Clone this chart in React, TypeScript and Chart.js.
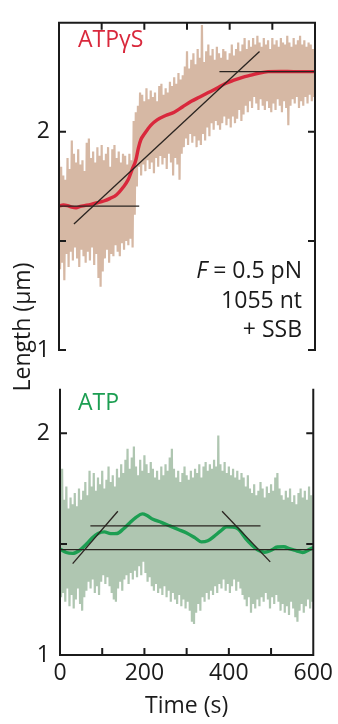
import React, { useEffect, useRef } from 'react';
import { Chart, registerables } from 'chart.js';

Chart.register(...registerables);

const FONT_FAMILY = '"Open Sans", "DejaVu Sans", sans-serif';
const FONT_SIZE = 23;
const INK = '#1b1b1b';
const RED = '#d9283c';
const TAN = '#d6b8a4';
const GREEN = '#1c9e52';
const SAGE = '#afc6b1';
const FIT = '#2a2420';

// ---------- shared axes ----------
const NOISE_STEP = 5; // seconds between raw-trace samples
const timeLabelTicks = [0, 200, 400, 600];
const timeMinorTicks = [100, 200, 300, 400, 500];
const lengthLabelTicks = [1, 2];
const lengthMinorTicks = [1.5, 2];

// ---------- top panel: ATPγS ----------
const gsRange = [1, 2.5];
const gsRawHigh = [
  1.87, 1.84, 1.80, 1.78, 1.88, 1.83, 1.96, 1.90, 1.86, 1.92,
  1.85, 1.87, 1.82, 1.95, 1.97, 1.88, 1.91, 1.86, 1.93, 1.89,
  1.94, 1.87, 1.90, 1.93, 1.84, 1.92, 1.94, 1.88, 1.91, 1.86,
  1.90, 1.89, 1.85, 1.90, 1.87, 2.05, 2.09, 2.12, 2.18, 2.17,
  2.14, 2.20, 2.15, 2.19, 2.16, 2.18, 2.14, 2.21, 2.22, 2.17,
  2.20, 2.18, 2.23, 2.21, 2.25, 2.22, 2.27, 2.24, 2.26, 2.30,
  2.37, 2.29, 2.33, 2.36, 2.31, 2.38, 2.34, 2.49, 2.32, 2.37,
  2.40, 2.35, 2.38, 2.33, 2.39, 2.36, 2.34, 2.38, 2.37, 2.33,
  2.36, 2.40, 2.35, 2.38, 2.41, 2.37, 2.40, 2.43, 2.38, 2.42,
  2.39, 2.43, 2.40, 2.44, 2.41, 2.39, 2.43, 2.40, 2.42, 2.38,
  2.43, 2.40, 2.42, 2.39, 2.43, 2.41, 2.40, 2.44, 2.41, 2.39,
  2.43, 2.40, 2.42, 2.44, 2.40, 2.42, 2.39, 2.41, 2.40, 2.38,
];
const gsRawLow = [
  1.37, 1.40, 1.32, 1.44, 1.38, 1.45, 1.41, 1.47, 1.42, 1.38,
  1.46, 1.43, 1.40, 1.45, 1.41, 1.47, 1.39, 1.44, 1.33, 1.29,
  1.36, 1.42, 1.46, 1.40, 1.44, 1.43, 1.48, 1.45, 1.43, 1.49,
  1.46, 1.50, 1.48, 1.51, 1.47, 1.62, 1.75, 1.84, 1.80, 1.85,
  1.82, 1.87, 1.83, 1.86, 1.81, 1.88, 1.84, 1.89, 1.85, 1.88,
  1.83, 1.90, 1.86, 1.80, 1.88, 1.85, 1.78, 1.90, 1.93, 1.97,
  1.94, 1.99, 1.95, 1.98, 1.93, 1.96, 1.94, 1.99, 1.96, 2.02,
  1.98, 2.04, 2.01, 2.05, 2.03, 2.01, 2.04, 2.07, 2.03, 2.06,
  2.02, 2.07, 2.04, 2.06, 2.10, 2.05, 2.08, 2.12, 2.09, 2.14,
  2.11, 2.16, 2.13, 2.10, 2.15, 2.12, 2.10, 2.14, 2.11, 2.09,
  2.13, 2.10, 2.15, 2.12, 2.09, 2.14, 2.11, 2.03, 2.12, 2.15,
  2.13, 2.16, 2.11, 2.14, 2.12, 2.16, 2.13, 2.17, 2.14, 2.16,
];
const gsSmoothTime = [0, 10, 20, 30, 40, 50, 60, 75, 90, 105, 120, 135, 150, 162, 172, 180, 186, 192, 200, 215, 230, 250, 270, 290, 310, 330, 350, 370, 390, 410, 430, 450, 470, 490, 520, 550, 580, 600];
const gsSmoothLength = [1.66, 1.665, 1.662, 1.655, 1.652, 1.658, 1.662, 1.668, 1.675, 1.683, 1.695, 1.712, 1.745, 1.78, 1.83, 1.87, 1.925, 1.965, 1.99, 2.03, 2.055, 2.075, 2.09, 2.115, 2.14, 2.16, 2.18, 2.2, 2.222, 2.237, 2.25, 2.26, 2.27, 2.276, 2.277, 2.276, 2.276, 2.276];
const gsFitStartTime = [0, 35, 376];
const gsFitEndTime = [188, 470, 600];
const gsFitStartLength = [1.66, 1.578, 2.276];
const gsFitEndLength = [1.66, 2.368, 2.276];

// ---------- bottom panel: ATP ----------
const atpRange = [1, 2.2];
const atpRawHigh = [
  1.72, 1.84, 1.70, 1.76, 1.66, 1.71, 1.68, 1.73, 1.67, 1.75,
  1.70, 1.74, 1.78, 1.72, 1.83, 1.76, 1.82, 1.74, 1.80, 1.77,
  1.83, 1.75, 1.79, 1.85, 1.78, 1.81, 1.76, 1.84, 1.80, 1.86,
  1.82, 1.88, 1.93, 1.84, 1.89, 1.94, 1.85, 1.81, 1.88, 1.83,
  1.90, 1.86, 1.82, 1.87, 1.84, 1.80, 1.83, 1.79, 1.85, 1.81,
  1.86, 1.83, 1.89, 1.93, 1.84, 1.80, 1.83, 1.78, 1.82, 1.85,
  1.81, 1.79, 1.83, 1.80, 1.84, 1.82, 1.86, 1.80, 1.85, 1.87,
  1.83, 1.86, 1.84, 1.88, 1.85, 1.99, 1.86, 1.83, 1.87, 1.82,
  1.85, 1.81, 1.84, 1.80, 1.83, 1.79, 1.82, 1.80, 1.76, 1.81,
  1.75, 1.73, 1.77, 1.72, 1.74, 1.78, 1.75, 1.71, 1.76, 1.73,
  1.77, 1.74, 1.80, 1.82, 1.75, 1.72, 1.70, 1.74, 1.71, 1.75,
  1.69, 1.72, 1.68, 1.73, 1.75, 1.71, 1.74, 1.70, 1.76, 1.72,
];
const atpRawLow = [
  1.26, 1.28, 1.24, 1.30, 1.22, 1.27, 1.21, 1.25, 1.30, 1.23,
  1.20, 1.26, 1.29, 1.33, 1.30, 1.34, 1.28, 1.31, 1.27, 1.33,
  1.36, 1.32, 1.35, 1.31, 1.28, 1.25, 1.24, 1.30, 1.33, 1.29,
  1.34, 1.36, 1.32, 1.37, 1.34, 1.38, 1.35, 1.40, 1.36, 1.42,
  1.37, 1.33, 1.35, 1.31, 1.29, 1.32, 1.28, 1.30, 1.27, 1.31,
  1.26, 1.29, 1.24, 1.28, 1.25, 1.23, 1.27, 1.22, 1.25, 1.21,
  1.24, 1.20, 1.15, 1.14, 1.19, 1.23, 1.20, 1.26, 1.24, 1.28,
  1.25, 1.29, 1.27, 1.31, 1.28, 1.32, 1.30, 1.34, 1.29, 1.32,
  1.28, 1.31, 1.34, 1.29, 1.33, 1.30, 1.27, 1.25, 1.22, 1.26,
  1.19, 1.23, 1.21, 1.25, 1.22, 1.26, 1.24, 1.28, 1.25, 1.21,
  1.26, 1.23, 1.27, 1.24, 1.20, 1.23, 1.19, 1.22, 1.18, 1.24,
  1.21, 1.17, 1.15, 1.20, 1.23, 1.19, 1.22, 1.25, 1.21, 1.24,
];
const atpSmoothTime = [0, 15, 30, 45, 60, 75, 90, 105, 120, 135, 150, 165, 180, 195, 205, 220, 240, 260, 280, 300, 320, 335, 350, 365, 380, 395, 410, 422, 440, 455, 470, 485, 500, 515, 530, 545, 560, 575, 590, 600];
const atpSmoothLength = [1.478, 1.462, 1.458, 1.47, 1.495, 1.525, 1.548, 1.555, 1.547, 1.548, 1.568, 1.595, 1.62, 1.636, 1.63, 1.612, 1.598, 1.582, 1.566, 1.55, 1.528, 1.51, 1.515, 1.535, 1.558, 1.578, 1.577, 1.568, 1.525, 1.495, 1.472, 1.463, 1.472, 1.487, 1.488, 1.478, 1.47, 1.462, 1.475, 1.485];
const atpFitStartTime = [0, 72, 30, 384];
const atpFitEndTime = [600, 475, 137, 498];
const atpFitStartLength = [1.475, 1.582, 1.412, 1.648];
const atpFitEndLength = [1.475, 1.582, 1.648, 1.42];

type Pt = { x: number; y: number };

const rawTrace = (hi: number[], lo: number[]): Pt[] => {
  const pts: Pt[] = [];
  hi.forEach((h, i) => {
    const t = i * NOISE_STEP;
    pts.push({ x: t, y: h });
    pts.push({ x: t + NOISE_STEP / 2, y: lo[i] });
  });
  return pts;
};
const pairs = (xs: number[], ys: number[]): Pt[] => xs.map((x, i) => ({ x, y: ys[i] }));

const fitDatasets = (t0: number[], t1: number[], l0: number[], l1: number[]) =>
  t0.map((t, i) => ({
    data: [{ x: t, y: l0[i] }, { x: t1[i], y: l1[i] }],
    borderColor: FIT,
    borderWidth: 1.3,
    pointRadius: 0,
    order: 1,
  }));

const font = () => ({ family: FONT_FAMILY, size: FONT_SIZE });

function framePlugin(kind: 'top' | 'bottom') {
  return {
    id: 'frame_' + kind,
    afterDatasetsDraw(chart: any) {
      const { ctx, chartArea: a, scales } = chart;
      const xs = scales.x;
      const ys = scales.y;
      const TL = 7;
      ctx.save();
      ctx.strokeStyle = INK;
      ctx.lineWidth = 2;
      ctx.beginPath();
      ctx.moveTo(a.left, a.top);
      ctx.lineTo(a.left, a.bottom);
      ctx.moveTo(a.right, a.top);
      ctx.lineTo(a.right, a.bottom);
      if (kind === 'top') {
        ctx.moveTo(a.left - 1, a.top);
        ctx.lineTo(a.right + 1, a.top);
        timeMinorTicks.forEach((t) => {
          const px = xs.getPixelForValue(t);
          ctx.moveTo(px, a.top);
          ctx.lineTo(px, a.top + TL);
        });
        const py1 = ys.getPixelForValue(1);
        ctx.moveTo(a.left - 1, py1);
        ctx.lineTo(a.left + TL, py1);
        ctx.moveTo(a.right + 1, py1);
        ctx.lineTo(a.right - TL, py1);
      } else {
        ctx.moveTo(a.left - 1, a.bottom);
        ctx.lineTo(a.right + 1, a.bottom);
        timeMinorTicks.forEach((t) => {
          const px = xs.getPixelForValue(t);
          ctx.moveTo(px, a.bottom);
          ctx.lineTo(px, a.bottom - TL);
        });
      }
      lengthMinorTicks.forEach((v) => {
        const py = ys.getPixelForValue(v);
        ctx.moveTo(a.left, py);
        ctx.lineTo(a.left + TL, py);
        ctx.moveTo(a.right, py);
        ctx.lineTo(a.right - TL, py);
      });
      ctx.stroke();
      ctx.restore();
    },
  };
}

const topTextPlugin = {
  id: 'topText',
  afterDraw(chart: any) {
    const ctx = chart.ctx;
    ctx.save();
    ctx.textBaseline = 'alphabetic';
    ctx.font = `${FONT_SIZE}px ${FONT_FAMILY}`;
    ctx.fillStyle = RED;
    ctx.textAlign = 'left';
    ctx.fillText('ATPγS', 78, 47);
    ctx.fillStyle = INK;
    ctx.textAlign = 'right';
    const rest = ' = 0.5 pN';
    ctx.fillText(rest, 302, 278);
    const w = ctx.measureText(rest).width;
    ctx.font = `italic ${FONT_SIZE}px ${FONT_FAMILY}`;
    ctx.fillText('F', 302 - w, 278);
    ctx.font = `${FONT_SIZE}px ${FONT_FAMILY}`;
    ctx.fillText('1055 nt', 302, 308);
    ctx.fillText('+ SSB', 302, 337);
    ctx.translate(30, 327);
    ctx.rotate(-Math.PI / 2);
    ctx.textAlign = 'center';
    ctx.fillText('Length (μm)', 0, 0);
    ctx.restore();
  },
};

const bottomTextPlugin = {
  id: 'bottomText',
  afterDraw(chart: any) {
    const ctx = chart.ctx;
    ctx.save();
    ctx.textBaseline = 'alphabetic';
    ctx.font = `${FONT_SIZE}px ${FONT_FAMILY}`;
    ctx.fillStyle = GREEN;
    ctx.textAlign = 'left';
    ctx.fillText('ATP', 78, 45);
    ctx.restore();
  },
};

const lengthTickCallback = (v: any) => (lengthLabelTicks.includes(Number(v)) ? String(v) : '');

export default function App() {
  const topRef = useRef<HTMLCanvasElement>(null);
  const botRef = useRef<HTMLCanvasElement>(null);

  useEffect(() => {
    const top = new Chart(topRef.current as HTMLCanvasElement, {
      type: 'line',
      data: {
        datasets: [
          { data: rawTrace(gsRawHigh, gsRawLow), borderColor: TAN, borderWidth: 2.2, borderJoinStyle: 'bevel', pointRadius: 0, order: 3 },
          { data: pairs(gsSmoothTime, gsSmoothLength), borderColor: RED, borderWidth: 3.4, pointRadius: 0, cubicInterpolationMode: 'monotone', order: 2 },
          ...fitDatasets(gsFitStartTime, gsFitEndTime, gsFitStartLength, gsFitEndLength),
        ] as any,
      },
      options: {
        animation: false,
        responsive: false,
        events: [],
        layout: { padding: { left: 0, top: 10, right: 23, bottom: 50 } },
        plugins: { legend: { display: false }, tooltip: { enabled: false } },
        scales: {
          x: { type: 'linear', min: 0, max: 600, display: false },
          y: {
            type: 'linear',
            min: gsRange[0],
            max: gsRange[1],
            position: 'left',
            afterFit: (s: any) => { s.width = 59; },
            ticks: { stepSize: 0.5, autoSkip: false, callback: lengthTickCallback, font: font(), color: INK, padding: 9 },
            grid: { display: false, drawTicks: false },
            border: { display: false },
          },
        },
      } as any,
      plugins: [framePlugin('top'), topTextPlugin],
    });

    const bottom = new Chart(botRef.current as HTMLCanvasElement, {
      type: 'line',
      data: {
        datasets: [
          { data: rawTrace(atpRawHigh, atpRawLow), borderColor: SAGE, borderWidth: 2.2, borderJoinStyle: 'bevel', pointRadius: 0, order: 3 },
          { data: pairs(atpSmoothTime, atpSmoothLength), borderColor: GREEN, borderWidth: 3.4, pointRadius: 0, cubicInterpolationMode: 'monotone', order: 2 },
          ...fitDatasets(atpFitStartTime, atpFitEndTime, atpFitStartLength, atpFitEndLength),
        ] as any,
      },
      options: {
        animation: false,
        responsive: false,
        events: [],
        layout: { padding: { left: 0, top: 17, right: 22, bottom: 0 } },
        plugins: { legend: { display: false }, tooltip: { enabled: false } },
        scales: {
          x: {
            type: 'linear',
            min: 0,
            max: 600,
            position: 'bottom',
            afterFit: (s: any) => { s.height = 69; },
            afterBuildTicks: (s: any) => { s.ticks = timeLabelTicks.map((v) => ({ value: v })); },
            ticks: { autoSkip: false, maxRotation: 0, font: font(), color: INK, padding: 5 },
            grid: { display: false, drawTicks: false },
            border: { display: false },
            title: { display: true, text: 'Time (s)', font: font(), color: INK, padding: { top: 0, bottom: 4 } },
          },
          y: {
            type: 'linear',
            min: atpRange[0],
            max: atpRange[1],
            position: 'left',
            afterFit: (s: any) => { s.width = 60; },
            ticks: { stepSize: 0.5, autoSkip: false, callback: lengthTickCallback, font: font(), color: INK, padding: 10 },
            grid: { display: false, drawTicks: false },
            border: { display: false },
          },
        },
      } as any,
      plugins: [framePlugin('bottom'), bottomTextPlugin],
    });

    return () => {
      top.destroy();
      bottom.destroy();
    };
  }, []);

  return (
    <div style={{ position: 'absolute', left: 0, top: 0, width: 338, height: 724, background: '#fff' }}>
      <canvas ref={topRef} width={338} height={400} style={{ position: 'absolute', left: 0, top: 0, width: 338, height: 400 }} />
      <canvas ref={botRef} width={338} height={359} style={{ position: 'absolute', left: 0, top: 365, width: 338, height: 359 }} />
    </div>
  );
}
